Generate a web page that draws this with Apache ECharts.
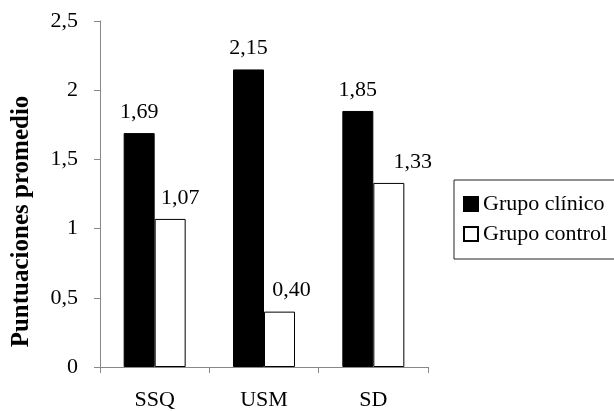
<!DOCTYPE html>
<html>
<head>
<meta charset="utf-8">
<script src="https://cdn.jsdelivr.net/npm/echarts@6/dist/echarts.min.js"></script>
<style>html,body{margin:0;padding:0;background:#fff;}#c{width:614px;height:411px;}</style>
</head>
<body>
<div id="c"></div>
<script>
var categories = ["SSQ", "USM", "SD"];
var clinico = [1.69, 2.15, 1.85];
var control = [1.07, 0.40, 1.33];
var seriesNames = ["Grupo clínico", "Grupo control"];
var yTitle = "Puntuaciones promedio";

// label horizontal shifts (style only)
var controlLabelShift = [10, 12, 24];

var font = "'Liberation Serif', 'Times New Roman', serif";
function fmt(v, d) { return v.toFixed(d).replace('.', ','); }

var controlData = control.map(function (v, i) {
  return { value: v, label: { offset: [controlLabelShift[i], 0] } };
});

var chart = echarts.init(document.getElementById('c'));
chart.setOption({
  animation: false,
  backgroundColor: '#fff',
  grid: { left: 100, top: 21, width: 328, height: 347 },
  legend: {
    orient: 'vertical',
    left: 454, top: 180,
    padding: [13, 40, 14, 9],
    borderColor: '#222', borderWidth: 1,
    itemWidth: 14, itemHeight: 14, itemGap: 8,
    icon: 'rect',
    textStyle: { fontFamily: font, fontSize: 22, color: '#000' },
    data: seriesNames
  },
  xAxis: {
    type: 'category',
    data: categories,
    axisLine: { lineStyle: { color: '#888' } },
    axisTick: { show: true, length: 6, lineStyle: { color: '#888' } },
    axisLabel: { fontFamily: font, fontSize: 22, color: '#000', margin: 22 }
  },
  yAxis: {
    type: 'value',
    min: 0, max: 2.5, interval: 0.5,
    name: yTitle,
    nameLocation: 'middle',
    nameGap: 66,
    nameTextStyle: { fontFamily: font, fontSize: 25, fontWeight: 'bold', color: '#000', padding: [0, 0, 0, -55] },
    axisLine: { show: true, lineStyle: { color: '#888' } },
    axisTick: { show: true, length: 6, lineStyle: { color: '#888' } },
    splitLine: { show: false },
    axisLabel: { fontFamily: font, fontSize: 22, color: '#000', margin: 22,
      formatter: function (v) { return String(v).replace('.', ','); } }
  },
  series: [
    {
      name: seriesNames[0], type: 'bar', data: clinico,
      barWidth: 31, barGap: '0%',
      itemStyle: { color: '#000', borderColor: '#000', borderWidth: 1 },
      label: { show: true, position: 'top', distance: 10, fontFamily: font, fontSize: 22, color: '#000',
        formatter: function (p) { return fmt(p.value, 2); } }
    },
    {
      name: seriesNames[1], type: 'bar', data: controlData,
      barWidth: 31, barGap: '0%',
      itemStyle: { color: '#fff', borderColor: '#000', borderWidth: 1 },
      label: { show: true, position: 'top', distance: 10, fontFamily: font, fontSize: 22, color: '#000',
        formatter: function (p) { return fmt(p.value, 2); } }
    }
  ]
});
</script>
</body>
</html>
